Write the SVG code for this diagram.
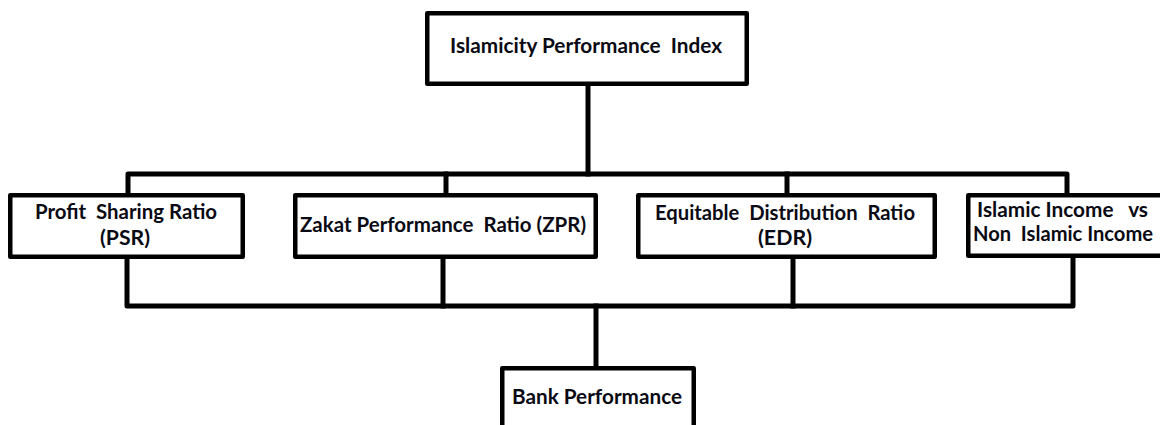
<svg xmlns="http://www.w3.org/2000/svg" width="1160" height="425" viewBox="0 0 1160 425">
  <style>
    .box { fill: #ffffff; stroke: #000000; stroke-width: 4.5; stroke-linejoin: round; }
    .wire { fill: none; stroke: #000000; stroke-width: 5; stroke-linejoin: round; stroke-linecap: square; }
    .lbl { font-family: Lato, "Open Sans", "Liberation Sans", sans-serif; font-weight: bold; font-size: 21px; fill: #0a0a14; white-space: pre; }
  </style>

  <rect width="1160" height="425" fill="#ffffff"/>

  <!-- connectors -->
  <g id="connectors">
    <path class="wire" d="M588 86 V174"/>
    <path class="wire" d="M128 193 V174 H1067 V193"/>
    <path class="wire" d="M446 174 V193"/>
    <path class="wire" d="M787 174 V193"/>
    <path class="wire" d="M127 259 V306 H1073 V258"/>
    <path class="wire" d="M443 259 V306"/>
    <path class="wire" d="M793 259 V306"/>
    <path class="wire" d="M596 306 V366"/>
  </g>

  <g id="ipi">
    <rect class="box" x="427.25" y="13.25" width="319.5" height="70.5"/>
    <text class="lbl" x="450" y="53" textLength="272" lengthAdjust="spacingAndGlyphs">Islamicity Performance  Index</text>
  </g>

  <g id="psr">
    <rect class="box" x="10.25" y="195.25" width="232.5" height="61.5"/>
    <text class="lbl" x="35" y="219" textLength="182" lengthAdjust="spacingAndGlyphs">Profit  Sharing Ratio</text>
    <text class="lbl" x="100" y="245" textLength="50" lengthAdjust="spacingAndGlyphs">(PSR)</text>
  </g>

  <g id="zpr">
    <rect class="box" x="295.25" y="195.25" width="300.5" height="61.5"/>
    <text class="lbl" x="300" y="232" textLength="286" lengthAdjust="spacingAndGlyphs">Zakat Performance  Ratio (ZPR)</text>
  </g>

  <g id="edr">
    <rect class="box" x="638.25" y="195.25" width="296.5" height="61.5"/>
    <text class="lbl" x="655" y="220" textLength="260" lengthAdjust="spacingAndGlyphs">Equitable  Distribution  Ratio</text>
    <text class="lbl" x="758" y="245" textLength="54" lengthAdjust="spacingAndGlyphs">(EDR)</text>
  </g>

  <g id="income">
    <rect class="box" x="968.25" y="195.25" width="205" height="60.5"/>
    <text class="lbl" x="977" y="217" textLength="171" lengthAdjust="spacingAndGlyphs">Islamic Income   vs</text>
    <text class="lbl" x="973" y="241" textLength="180" lengthAdjust="spacingAndGlyphs">Non  Islamic Income</text>
  </g>

  <g id="bank">
    <rect class="box" x="502.25" y="368.25" width="191.5" height="70"/>
    <text class="lbl" x="512" y="404" textLength="170" lengthAdjust="spacingAndGlyphs">Bank Performance</text>
  </g>
</svg>
